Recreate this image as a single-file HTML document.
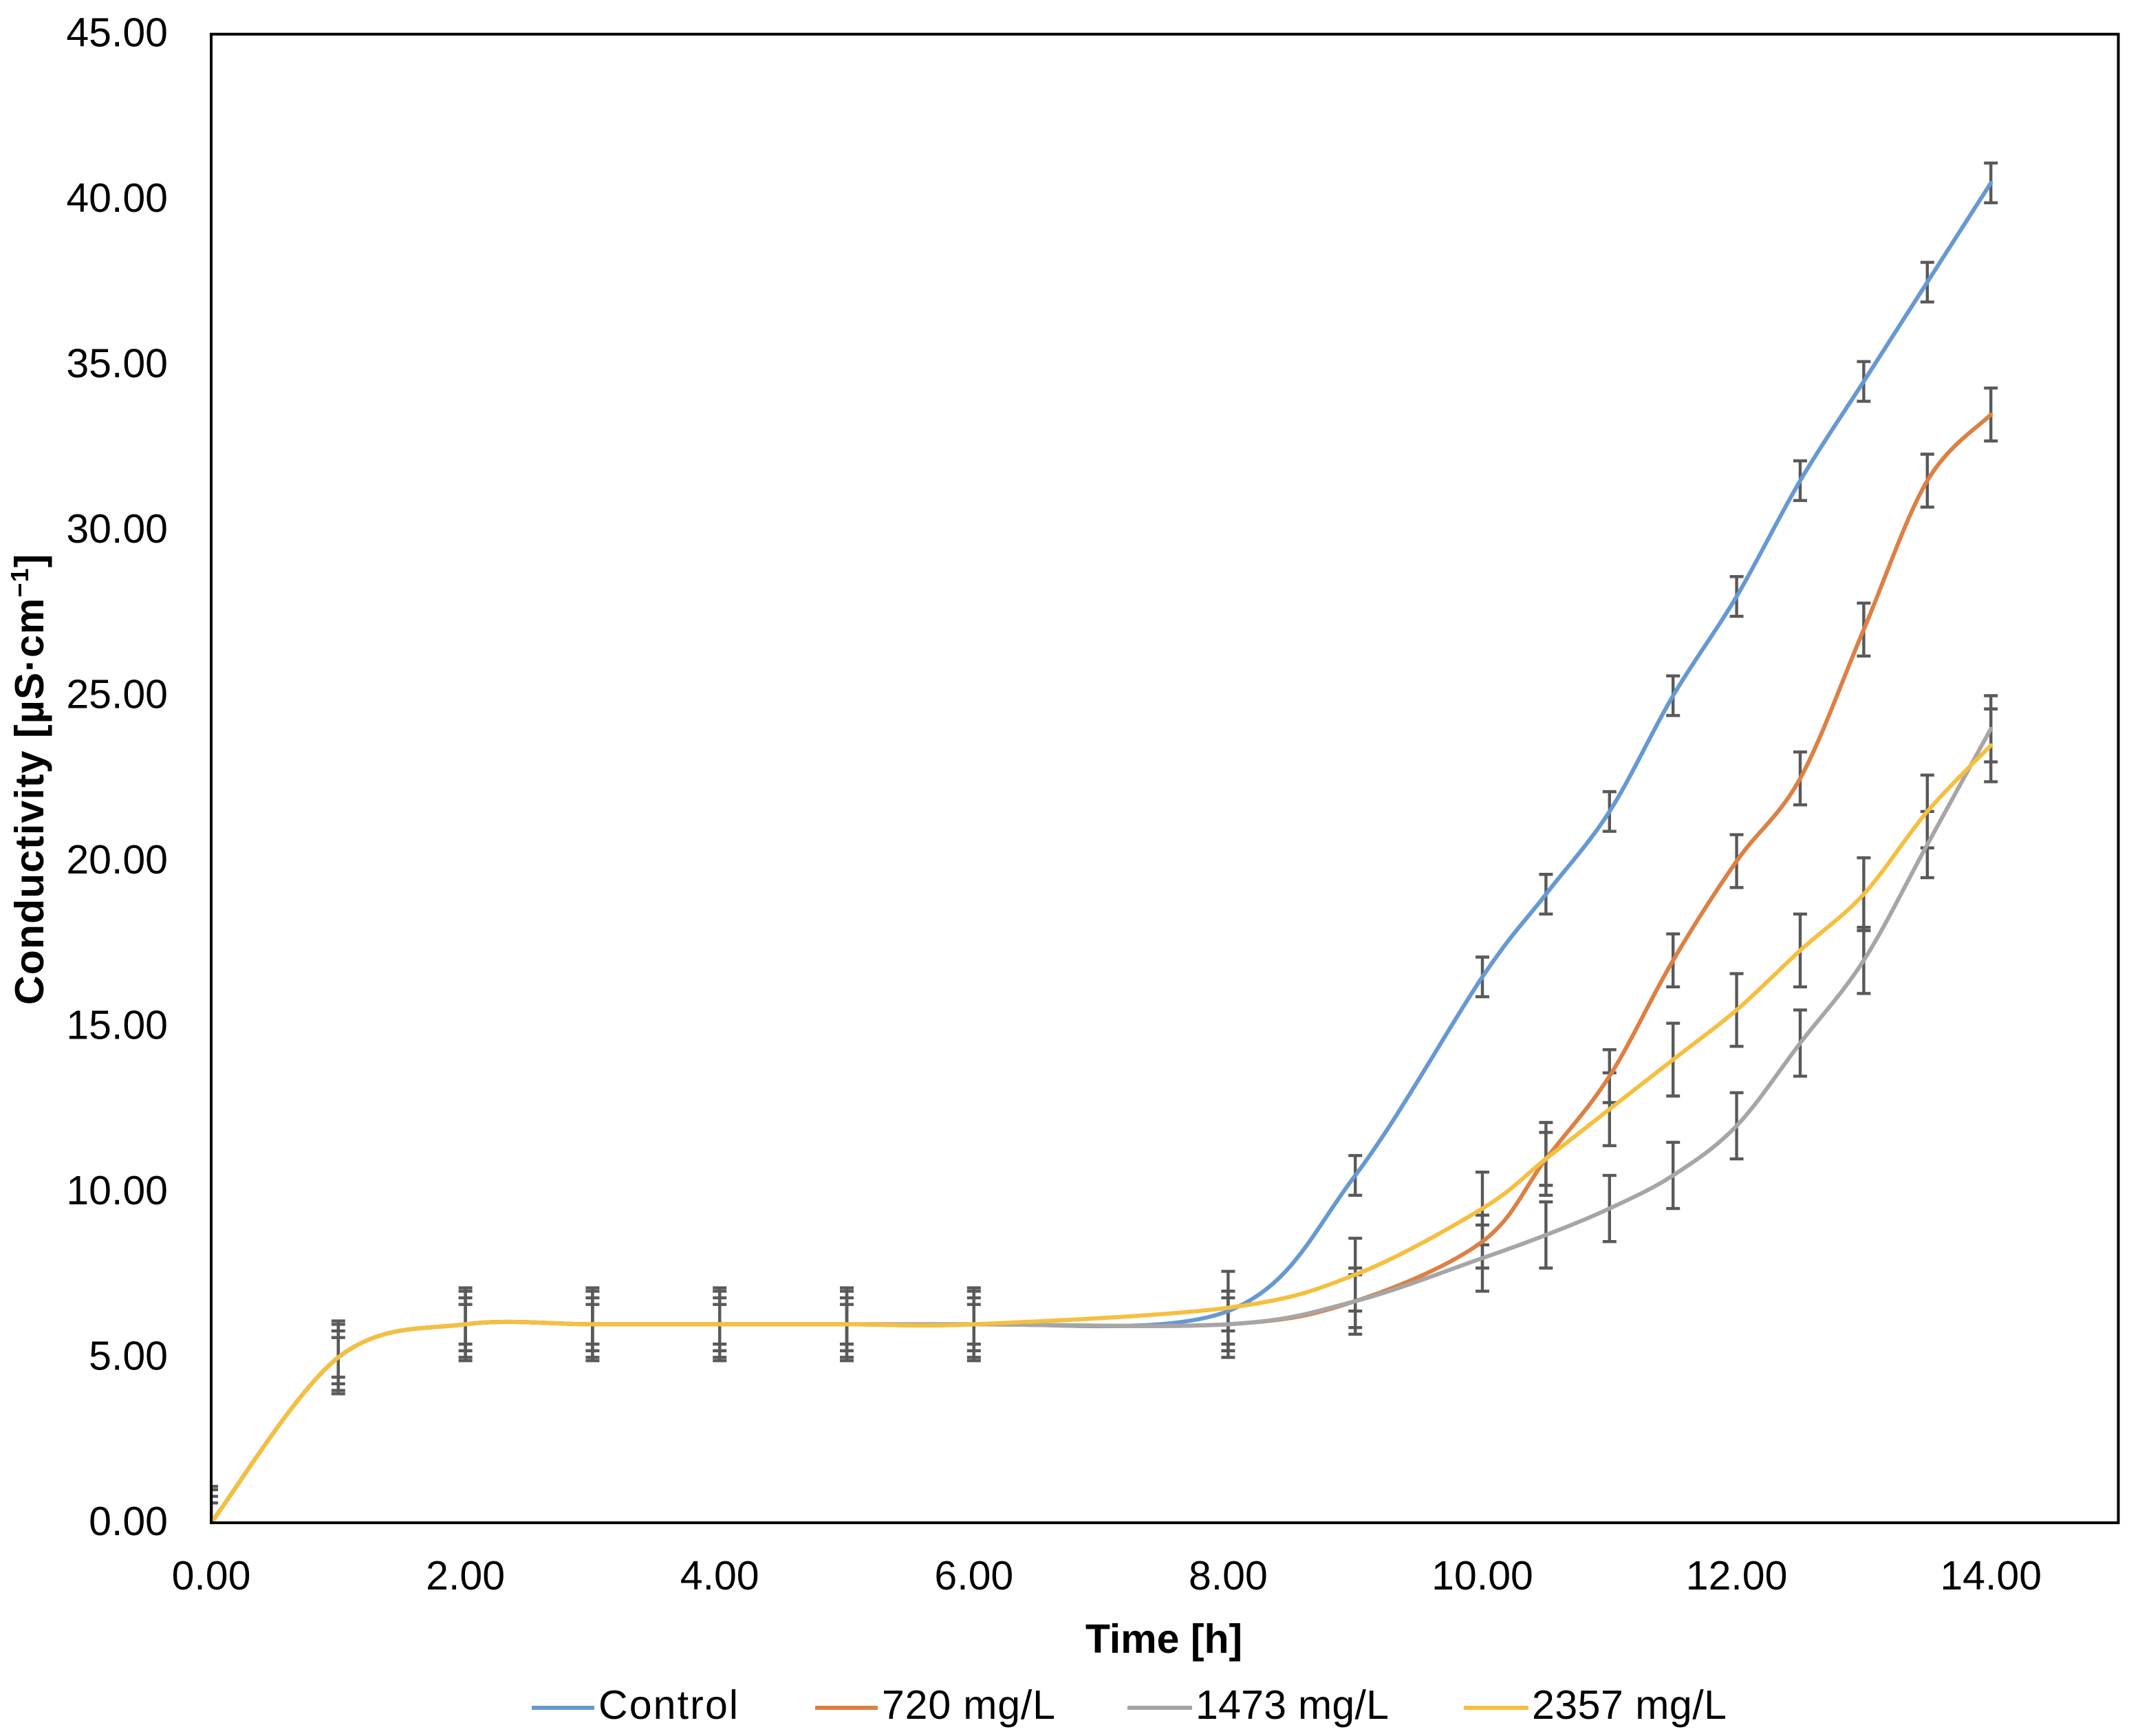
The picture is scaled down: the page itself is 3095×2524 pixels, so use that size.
<!DOCTYPE html>
<html lang="en">
<head>
<meta charset="utf-8">
<title>Conductivity over time</title>
<style>
  html, body { margin: 0; padding: 0; background: #ffffff; }
  body { width: 3095px; height: 2524px; overflow: hidden; }
  svg { display: block; }
  text { font-family: "Liberation Sans", sans-serif; fill: #000000; }
  .tick { font-size: 59px; }
  .title { font-size: 59px; font-weight: 700; }
  .legend-text { font-size: 59px; }
</style>
</head>
<body>
<svg id="chart" xmlns="http://www.w3.org/2000/svg" width="3095" height="2524" viewBox="0 0 3095 2524">
  <defs>
    <clipPath id="plot-clip"><rect x="307" y="49.7" width="2772.5" height="2164.3"></rect></clipPath>
  </defs>
  <rect x="0" y="0" width="3095" height="2524" fill="#ffffff"></rect>
  <g id="error-layer" clip-path="url(#plot-clip)"></g>
  <g id="line-layer" clip-path="url(#plot-clip)"></g>
  <rect x="307" y="49.7" width="2772.5" height="2164.3" fill="none" stroke="#000000" stroke-width="4"></rect>
  <g id="x-ticks"></g>
  <g id="y-ticks"></g>
  <text class="title" x="1692" y="2403" text-anchor="middle">Time [h]</text>
  <text class="title" transform="translate(63 1461) rotate(-90)" style="letter-spacing:1.1px">Conductivity [µS·cm<tspan font-size="36" dy="-22">−1</tspan><tspan dy="22">]</tspan></text>
  <g>
    <g>
      <line x1="773" x2="864" y1="2483" y2="2483" stroke="#6699D2" stroke-width="6"></line>
      <text class="legend-text" x="870" y="2499" textLength="203" lengthAdjust="spacing">Control</text>
    </g>
    <g>
      <line x1="1185" x2="1276" y1="2483" y2="2483" stroke="#DD8044" stroke-width="6"></line>
      <text class="legend-text" x="1282" y="2499" textLength="252" lengthAdjust="spacing">720 mg/L</text>
    </g>
    <g>
      <line x1="1639" x2="1733" y1="2483" y2="2483" stroke="#A6A6A6" stroke-width="6"></line>
      <text class="legend-text" x="1738" y="2499" textLength="281" lengthAdjust="spacing">1473 mg/L</text>
    </g>
    <g>
      <line x1="2128" x2="2222" y1="2483" y2="2483" stroke="#F5BF3F" stroke-width="6"></line>
      <text class="legend-text" x="2227" y="2499" textLength="283" lengthAdjust="spacing">2357 mg/L</text>
    </g>
  </g>
</svg>
<script>
const timeHours = [0, 1, 2, 3, 4, 5, 6, 8, 9, 10, 10.5, 11, 11.5, 12, 12.5, 13, 13.5, 14];
const controlValues = [0, 5, 6, 6, 6, 6, 6, 6.4, 10.5, 16.5, 19, 21.5, 25, 28, 31.5, 34.5, 37.5, 40.5];
const mg720Values = [0, 5, 6, 6, 6, 6, 6, 6, 6.7, 8.5, 11, 13.5, 17, 20, 22.5, 27, 31.5, 33.5];
const mg1473Values = [0, 5, 6, 6, 6, 6, 6, 6, 6.7, 8, 8.7, 9.5, 10.5, 12, 14.5, 17, 20.5, 24];
const mg2357Values = [0, 5, 6, 6, 6, 6, 6, 6.5, 7.5, 9.5, 11, 12.5, 14, 15.5, 17.3, 19, 21.5, 23.5];
const controlErrors = [0.6, 0.6, 0.6, 0.6, 0.6, 0.6, 0.6, 0.6, 0.6, 0.6, 0.6, 0.6, 0.6, 0.6, 0.6, 0.6, 0.6, 0.6];
const mg720Errors = [0.8, 0.8, 0.8, 0.8, 0.8, 0.8, 0.8, 0.8, 0.8, 0.8, 0.8, 0.8, 0.8, 0.8, 0.8, 0.8, 0.8, 0.8];
const mg1473Errors = [1, 1, 1, 1, 1, 1, 1, 1, 1, 1, 1, 1, 1, 1, 1, 1, 1, 1];
const mg2357Errors = [1.1, 1.1, 1.1, 1.1, 1.1, 1.1, 1.1, 1.1, 1.1, 1.1, 1.1, 1.1, 1.1, 1.1, 1.1, 1.1, 1.1, 1.1];
const xTickValues = [0, 2, 4, 6, 8, 10, 12, 14];
const xTickLabels = ['0.00', '2.00', '4.00', '6.00', '8.00', '10.00', '12.00', '14.00'];
const yTickValues = [0, 5, 10, 15, 20, 25, 30, 35, 40, 45];
const yTickLabels = ['0.00', '5.00', '10.00', '15.00', '20.00', '25.00', '30.00', '35.00', '40.00', '45.00'];

const NS = 'http://www.w3.org/2000/svg';
const X0 = 307, XPER = 184.8, Y0 = 2214, YPER = 48.1;
function xScale(v) { return X0 + v * XPER; }
function yScale(v) { return Y0 - v * YPER; }

function smoothPath(xs, ys) {
  const p = xs.map(function (x, i) { return [xScale(x), yScale(ys[i])]; });
  let d = 'M' + p[0][0].toFixed(2) + ' ' + p[0][1].toFixed(2);
  for (let i = 0; i < p.length - 1; i++) {
    const a = p[Math.max(i - 1, 0)], b = p[i], c = p[i + 1], e = p[Math.min(i + 2, p.length - 1)];
    const c1x = b[0] + (c[0] - a[0]) / 6, c1y = b[1] + (c[1] - a[1]) / 6;
    const c2x = c[0] - (e[0] - b[0]) / 6, c2y = c[1] - (e[1] - b[1]) / 6;
    d += 'C' + c1x.toFixed(2) + ' ' + c1y.toFixed(2) + ' ' + c2x.toFixed(2) + ' ' + c2y.toFixed(2) + ' ' + c[0].toFixed(2) + ' ' + c[1].toFixed(2);
  }
  return d;
}

function drawErrorBars(layer, values, errors, seriesName) {
  values.forEach(function (v, i) {
    const x = xScale(timeHours[i]);
    const top = yScale(v + errors[i]);
    const bottom = yScale(v - errors[i]);
    const path = document.createElementNS(NS, 'path');
    path.setAttribute('d', 'M' + x + ' ' + top + 'V' + bottom + 'M' + (x - 10) + ' ' + top + 'H' + (x + 10) + 'M' + (x - 10) + ' ' + bottom + 'H' + (x + 10));
    path.setAttribute('fill', 'none');
    path.setAttribute('stroke', '#595959');
    path.setAttribute('stroke-width', '4.4');
    
    
    layer.appendChild(path);
  });
}

function drawLine(layer, values, color, seriesName) {
  const path = document.createElementNS(NS, 'path');
  path.setAttribute('d', smoothPath(timeHours, values));
  path.setAttribute('fill', 'none');
  path.setAttribute('stroke', color);
  path.setAttribute('stroke-width', '6');
  path.setAttribute('stroke-linecap', 'round');
  path.setAttribute('stroke-linejoin', 'round');
  
  
  layer.appendChild(path);
}

const errorLayer = document.getElementById('error-layer');
const lineLayer = document.getElementById('line-layer');

drawErrorBars(errorLayer, controlValues, controlErrors, 'control');
drawErrorBars(errorLayer, mg720Values, mg720Errors, '720-mg-l');
drawErrorBars(errorLayer, mg1473Values, mg1473Errors, '1473-mg-l');
drawErrorBars(errorLayer, mg2357Values, mg2357Errors, '2357-mg-l');

drawLine(lineLayer, controlValues, '#6699D2', 'control');
drawLine(lineLayer, mg720Values, '#DD8044', '720-mg-l');
drawLine(lineLayer, mg1473Values, '#A6A6A6', '1473-mg-l');
drawLine(lineLayer, mg2357Values, '#F5BF3F', '2357-mg-l');

const xTickGroup = document.getElementById('x-ticks');
xTickValues.forEach(function (v, i) {
  const t = document.createElementNS(NS, 'text');
  t.setAttribute('class', 'tick');
  t.setAttribute('x', xScale(v));
  t.setAttribute('y', 2311);
  t.setAttribute('text-anchor', 'middle');
  
  
  t.textContent = xTickLabels[i];
  xTickGroup.appendChild(t);
});

const yTickGroup = document.getElementById('y-ticks');
yTickValues.forEach(function (v, i) {
  const t = document.createElementNS(NS, 'text');
  t.setAttribute('class', 'tick');
  t.setAttribute('x', 244);
  t.setAttribute('y', yScale(v) + 18);
  t.setAttribute('text-anchor', 'end');
  
  
  t.textContent = yTickLabels[i];
  yTickGroup.appendChild(t);
});
</script>
</body>
</html>
